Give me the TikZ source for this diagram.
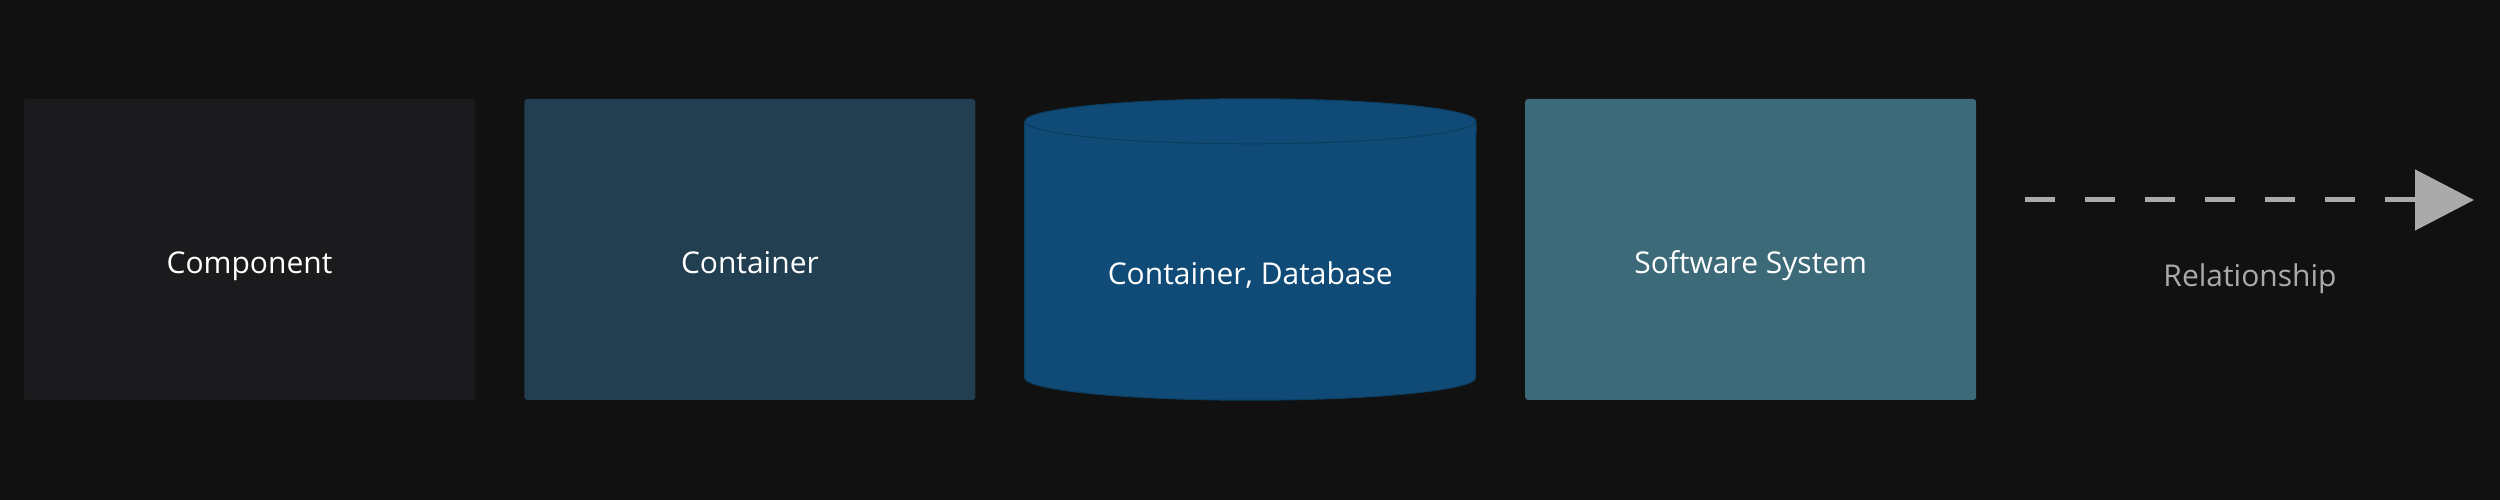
\documentclass[tikz,border=0pt]{standalone}
\usepackage{fontspec}
\setmainfont{Open Sans}
\usetikzlibrary{positioning}
\usetikzlibrary{arrows.meta}
\usetikzlibrary{backgrounds}

\definecolor{bgfill}{HTML}{111111}
\definecolor{compfill}{HTML}{1B1B1D}
\definecolor{contfill}{HTML}{213F50}
\definecolor{dbfill}{HTML}{0F4B76}
\definecolor{sysfill}{HTML}{3C6A79}
\definecolor{relgray}{HTML}{AAAAAA}

\begin{document}
\begin{tikzpicture}[x=1pt,y=1pt,
	elembox/.style={rectangle,rounded corners=3pt,minimum width=451pt,minimum height=301pt,inner sep=0pt,
		text=white,font=\fontsize{30}{36}\selectfont,text height=49pt,text depth=0pt},
	rellabel/.style={text=relgray,font=\fontsize{30}{36}\selectfont,anchor=base}]
	\def\dbry{22.5pt}  % radio vertical de las tapas
	\node[elembox,fill=compfill] (comp) at (249.5,250.5) {Component};
	\node[elembox,fill=contfill,right=49pt of comp] (cont) {Container};
	\node[elembox,right=49pt of cont,text height=70pt] (db) {Container, Database};
	\node[elembox,fill=sysfill,right=49pt of db] (sys) {Software System};
	\begin{scope}[on background layer]
		\fill[bgfill] (0,0) rectangle (2500,500);
		\fill[dbfill,draw=dbfill!80!black,line width=1pt] ([yshift=-\dbry]db.north west) -- ([yshift=\dbry]db.south west)
			arc[start angle=180,end angle=360,x radius=225.5pt,y radius=\dbry]
			-- ([yshift=-\dbry]db.north east)
			arc[start angle=0,end angle=180,x radius=225.5pt,y radius=\dbry] -- cycle;
		\draw[dbfill!80!black,line width=1pt] ([yshift=-\dbry]db.north west)
			arc[start angle=180,end angle=360,x radius=225.5pt,y radius=\dbry];
	\end{scope}
	\coordinate (relfrom) at (2025,300);
	\coordinate (relto) at (2474,300);
	\draw[relgray,line width=5pt,dash pattern=on 30pt off 30pt,-{Triangle[length=59pt,width=60pt]}] (relfrom) -- (relto);
	\node[rellabel] (rel) at (2250,213) {Relationship};
\end{tikzpicture}
\end{document}
